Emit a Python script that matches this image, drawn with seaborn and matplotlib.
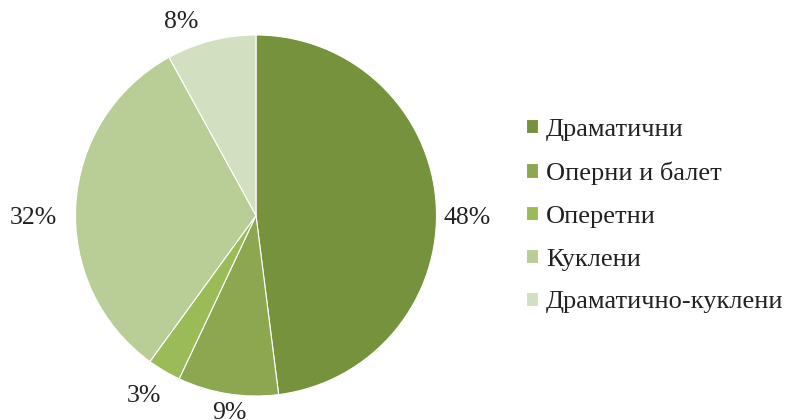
import matplotlib
matplotlib.use("Agg")
import numpy as np
import matplotlib.pyplot as plt
import seaborn as sns

categories = ["Драматични", "Оперни и балет", "Оперетни", "Куклени", "Драматично-куклени"]
values = [48, 9, 3, 32, 8]
colors = ["#76923C", "#8CA74F", "#9BBB59", "#B9CD96", "#D3DFC1"]

# label nudges in pixels (dx right, dy down) to mimic the reference's label placement
label_nudge_px = [(0, 14), (3, 1), (1, 8), (-12, 14), (-28, -1)]

sns.set_theme(style="white")
plt.rcParams["font.family"] = ["Liberation Serif", "DejaVu Serif"]

fig = plt.figure(figsize=(7.89, 4.20), dpi=100)
cx, cy, r = 256, 215.5, 180.5
ax = fig.add_axes([(cx - r) / 789, (420 - cy - r) / 420, 2 * r / 789, 2 * r / 420])

wedges, _ = ax.pie(
    values, colors=colors, startangle=90, counterclock=False,
    wedgeprops=dict(edgecolor="white", linewidth=0.8),
)
ax.set_xlim(-1, 1)
ax.set_ylim(-1, 1)
ax.set_aspect("equal")

for w, v, (ndx, ndy) in zip(wedges, values, label_nudge_px):
    th = np.deg2rad((w.theta1 + w.theta2) / 2)
    c, s = np.cos(th), np.sin(th)
    ha = "left" if c > 0.3 else ("right" if c < -0.3 else "center")
    va = "bottom" if s > 0.3 else ("top" if s < -0.3 else "center")
    ax.annotate(f"{v}%", xy=(1.04 * c, 1.04 * s), xytext=(ndx * 0.72, -ndy * 0.72),
                textcoords="offset points", ha=ha, va=va, fontsize=18.5,
                color="#222222", annotation_clip=False)

leg = fig.legend(
    wedges, categories, loc="center left", bbox_to_anchor=(526 / 789, 1 - 216 / 420),
    frameon=False, fontsize=19, handlelength=0.45, handleheight=0.45,
    handletextpad=0.3, labelspacing=0.79, borderaxespad=0, borderpad=0,
)
for t in leg.get_texts():
    t.set_color("#222222")

fig.savefig("out.png", dpi=100)
